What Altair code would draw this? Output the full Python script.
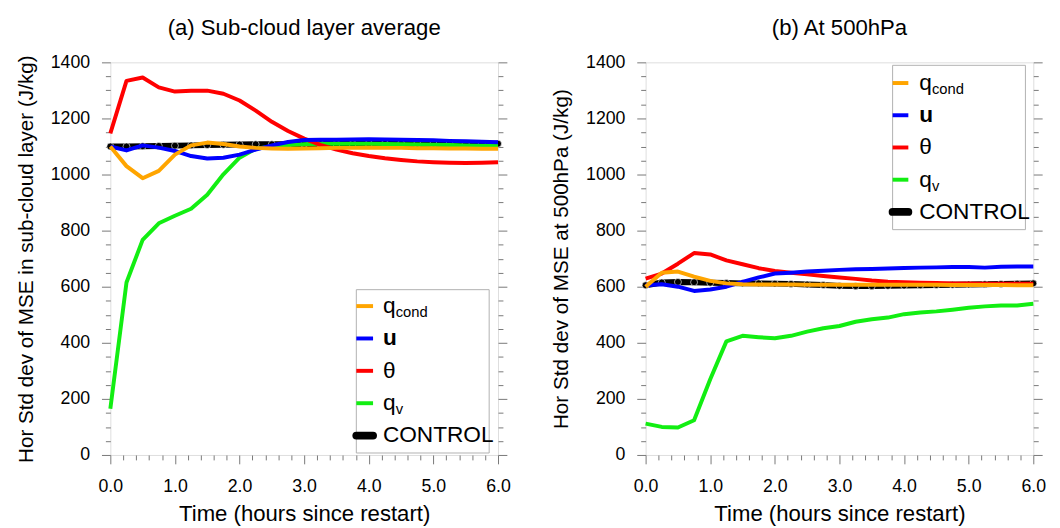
import altair as alt
import pandas as pd
import numpy as np

FONT = "Liberation Sans"

# time axis (hours since restart)
t = [0.0, 0.25, 0.5, 0.75, 1.0, 1.25, 1.5, 1.75, 2.0, 2.25, 2.5, 2.75, 3.0,
     3.25, 3.5, 3.75, 4.0, 4.25, 4.5, 4.75, 5.0, 5.25, 5.5, 5.75, 6.0]

# (a) sub-cloud layer average
qcond_a = [1100, 1030, 987, 1013, 1071, 1104, 1114, 1109, 1100, 1095, 1093, 1092, 1093,
           1094, 1095, 1095, 1096, 1095, 1095, 1094, 1094, 1093, 1093, 1092, 1092]
u_a = [1100, 1086, 1104, 1096, 1084, 1066, 1057, 1060, 1071, 1089, 1104, 1116, 1123,
       1124, 1124, 1125, 1126, 1125, 1124, 1123, 1122, 1120, 1119, 1117, 1115]
theta_a = [1147, 1334, 1346, 1311, 1296, 1299, 1299, 1288, 1264, 1228, 1188, 1155, 1128,
           1106, 1089, 1076, 1066, 1058, 1052, 1047, 1044, 1042, 1041, 1042, 1044]
qv_a = [165, 615, 767, 826, 853, 878, 928, 1001, 1060, 1092, 1100, 1105, 1108,
        1110, 1110, 1110, 1110, 1109, 1108, 1107, 1106, 1105, 1104, 1103, 1103]
ctrl_a = [1100, 1100, 1101, 1102, 1103, 1104, 1105, 1106, 1107, 1108, 1108, 1108, 1109,
          1109, 1109, 1109, 1110, 1110, 1110, 1110, 1110, 1110, 1110, 1110, 1110]

# (b) at 500 hPa
qcond_b = [600, 650, 654, 636, 621, 612, 609, 608, 608, 608, 607, 607, 607,
           607, 607, 607, 607, 607, 607, 606, 606, 606, 606, 605, 605]
u_b = [605, 609, 600, 585, 590, 600, 617, 633, 647, 650, 654, 657, 660,
       662, 663, 665, 667, 668, 669, 670, 670, 668, 671, 672, 672]
theta_b = [629, 647, 682, 720, 715, 694, 680, 666, 656, 650, 644, 638, 633,
           628, 622, 618, 616, 614, 613, 612, 612, 611, 611, 611, 611]
qv_b = [112, 100, 98, 124, 270, 405, 425, 420, 416, 425, 440, 452, 460,
        475, 484, 490, 502, 508, 512, 518, 525, 530, 533, 533, 539]
ctrl_b = [605, 615, 617, 616, 614, 613, 612, 612, 611, 610, 608, 606, 603,
          602, 602, 603, 604, 605, 606, 607, 608, 609, 610, 611, 612]

series_names = ["CONTROL", "qv", "theta", "u", "qcond"]
series_colors = {"CONTROL": "#000000", "qv": "#12EE12", "theta": "#FF0000",
                 "u": "#0000FF", "qcond": "#FFA500"}

# legend entries
leg_main = ["q", "u", "\u03b8", "q", "CONTROL"]
leg_sub = ["cond", "", "", "v", ""]
leg_color = ["#FFA500", "#0000FF", "#FF0000", "#12EE12", "#000000"]
leg_row = [0, 1, 2, 3, 4]

W, H = 394, 399
XDOM = [0, 6]
YDOM = [0, 1400]
x_major = [0, 1, 2, 3, 4, 5, 6]
x_minor = [round(v, 1) for v in np.arange(0, 6.01, 0.2) if abs(v - round(v)) > 1e-6]
y_major = list(range(0, 1401, 200))
y_minor = [v for v in range(0, 1401, 50) if v % 200]

AXC = dict(domain=False, grid=False, tickColor="#777777", tickWidth=1,
           labelFont=FONT, labelFontSize=18, labelColor="#000000",
           labelFlush=False, labelOverlap=False,
           titleFont=FONT, titleFontWeight="normal", titleColor="#000000")


def xs(axis):
    return alt.X("t:Q", scale=alt.Scale(domain=XDOM, nice=False, zero=False), axis=axis)


def ys(axis):
    return alt.Y("v:Q", scale=alt.Scale(domain=YDOM, nice=False, zero=False), axis=axis)


def panel(vals, title, ytitle, box, row0, rowstep, sw_x, tx):
    frames = []
    for name in series_names:
        frames.append(pd.DataFrame({"t": t, "v": vals[name], "s": name}))
    df = pd.concat(frames, ignore_index=True)
    dctrl = df[df.s == "CONTROL"]

    layers = []
    # axes (invisible carrier layers)
    layers.append(alt.Chart(dctrl).mark_line(opacity=0).encode(
        x=xs(alt.Axis(orient="bottom", values=x_major, format=".1f",
                      title="Time (hours since restart)", tickSize=9,
                      labelPadding=14, titlePadding=8, titleFontSize=22.5, **AXC)),
        y=ys(alt.Axis(orient="left", values=y_major, format="d", title=ytitle,
                      tickSize=9, labelPadding=12, titlePadding=14,
                      titleFontSize=21, **AXC))))
    layers.append(alt.Chart(dctrl).mark_line(opacity=0).encode(
        x=xs(alt.Axis(orient="bottom", values=x_minor, labels=False, title=None,
                      tickSize=5, **AXC)),
        y=ys(alt.Axis(orient="left", values=y_minor, labels=False, title=None,
                      tickSize=5, **AXC))))
    layers.append(alt.Chart(dctrl).mark_line(opacity=0).encode(
        x=xs(None),
        y=ys(alt.Axis(orient="right", values=y_major, labels=False, title=None,
                      tickSize=9, **AXC))))
    layers.append(alt.Chart(dctrl).mark_line(opacity=0).encode(
        x=xs(None),
        y=ys(alt.Axis(orient="right", values=y_minor, labels=False, title=None,
                      tickSize=5, **AXC))))

    # data lines
    layers.append(alt.Chart(dctrl).mark_line(color="#000000", strokeWidth=6).encode(
        x=xs(None), y=ys(None)))
    layers.append(alt.Chart(dctrl).mark_point(filled=True, color="#000000", size=50,
                                              stroke="#ffffff", strokeWidth=0.6,
                                              opacity=1).encode(
        x=xs(None), y=ys(None)))
    for name in series_names[1:]:
        d = df[df.s == name]
        layers.append(alt.Chart(d).mark_line(color=series_colors[name], strokeWidth=4,
                                             strokeJoin="round").encode(
            x=xs(None), y=ys(None)))

    # legend (placed in the plot's pixel frame)
    leg = pd.DataFrame({"main": leg_main, "sub": leg_sub, "color": leg_color,
                        "row": leg_row})
    one = pd.DataFrame({"k": [0]})
    calc = f"{row0} + datum.row * {rowstep}"
    ly = alt.Y("ly:Q", scale=None, axis=None)
    layers.append(alt.Chart(one).mark_rect(fill="#ffffff", stroke="#b0b0b0",
                                           strokeWidth=1).encode(
        x=alt.value(box[0]), x2=alt.value(box[1]), y=alt.value(box[2]),
        y2=alt.value(box[3])))
    layers.append(alt.Chart(leg).transform_calculate(ly=calc).transform_filter(
        "datum.row < 4").mark_rule(strokeWidth=4).encode(
        x=alt.value(sw_x[0]), x2=alt.value(sw_x[1]), y=ly,
        color=alt.Color("color:N", scale=None)))
    layers.append(alt.Chart(leg).transform_calculate(ly=calc).transform_filter(
        "datum.row == 4").mark_rule(strokeWidth=8, strokeCap="round").encode(
        x=alt.value(sw_x[0]), x2=alt.value(sw_x[1]), y=ly,
        color=alt.Color("color:N", scale=None)))
    layers.append(alt.Chart(leg).transform_calculate(ly=calc).transform_filter(
        "datum.row != 1").mark_text(
        align="left", baseline="middle", font=FONT, fontSize=23, color="#000000").encode(
        x=alt.value(tx), y=ly, text="main:N"))
    layers.append(alt.Chart(leg).transform_calculate(ly=calc).transform_filter(
        "datum.row == 1").mark_text(
        align="left", baseline="middle", font=FONT, fontSize=23, fontWeight="bold",
        color="#000000").encode(x=alt.value(tx), y=ly, text="main:N"))
    layers.append(alt.Chart(leg).transform_calculate(ly=calc).transform_filter(
        "datum.sub != ''").mark_text(
        align="left", baseline="middle", font=FONT, fontSize=15, dy=6,
        color="#000000").encode(x=alt.value(tx + 13), y=ly, text="sub:N"))

    return alt.layer(*layers).resolve_axis(x="independent", y="independent").properties(
        width=W, height=H,
        title=alt.TitleParams(title, font=FONT, fontSize=22.5, fontWeight="normal",
                              color="#000000", anchor="middle", frame="group",
                              offset=14))


vals_a = {"CONTROL": ctrl_a, "qv": qv_a, "theta": theta_a, "u": u_a, "qcond": qcond_a}
vals_b = {"CONTROL": ctrl_b, "qv": qv_b, "theta": theta_b, "u": u_b, "qcond": qcond_b}

pa = panel(vals_a, "(a) Sub-cloud layer average",
           "Hor Std dev of MSE in sub-cloud layer (J/kg)",
           box=[250, 385, 231, 397], row0=247.7, rowstep=32.9, sw_x=[250, 267], tx=277)
pb = panel(vals_b, "(b) At 500hPa",
           "Hor Std dev of MSE at 500hPa (J/kg)",
           box=[251, 386, 3, 170], row0=21, rowstep=32.75, sw_x=[251, 267], tx=278)

chart = alt.hconcat(pa, pb, spacing=39).properties(
    padding={"left": 7, "top": 5, "right": 5, "bottom": 0}
).configure_view(stroke="#777777", strokeWidth=1).configure(background="#ffffff")

chart.save("out.html", embed_options={"renderer": "svg", "actions": False})
